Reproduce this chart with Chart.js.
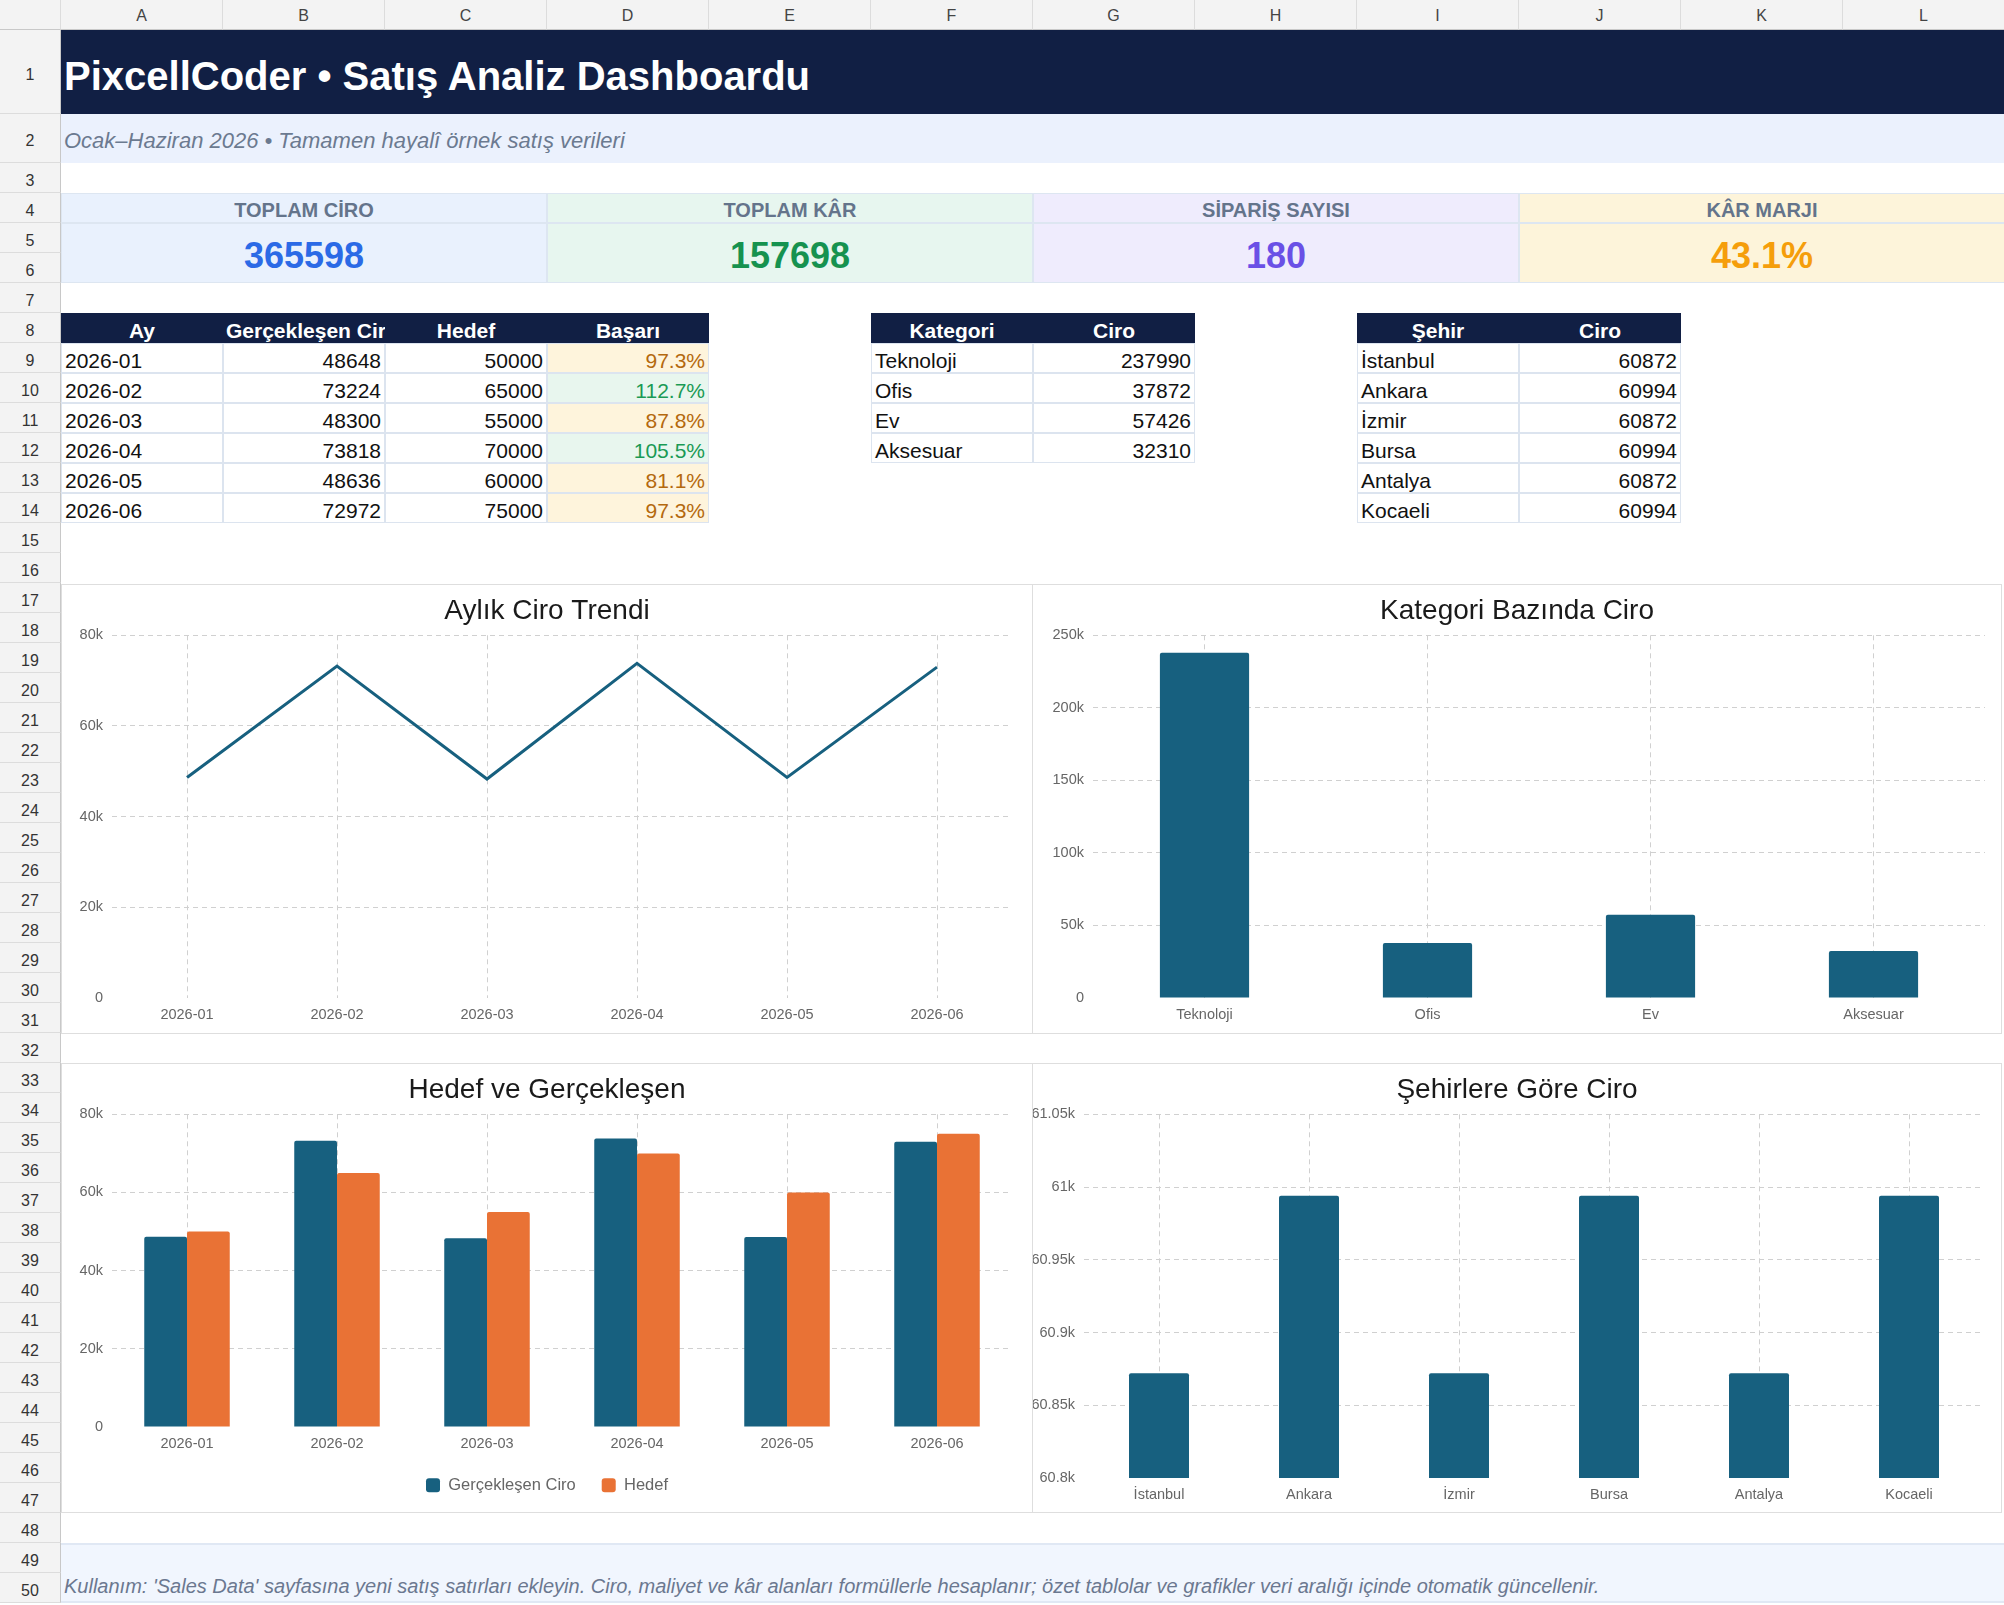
<!DOCTYPE html>
<html lang="tr">
<head>
<meta charset="utf-8">
<title>PixcellCoder • Satış Analiz Dashboardu</title>
<script src="https://cdn.jsdelivr.net/npm/chart.js@4.4.1/dist/chart.umd.min.js"></script>
<style>
  html, body { margin: 0; padding: 0; background: #fff; }
  body { width: 2004px; height: 1605px; position: relative; overflow: hidden;
         font-family: "Liberation Sans", Arial, Helvetica, sans-serif; color: #111; }
  .abs { position: absolute; box-sizing: border-box; white-space: nowrap; overflow: hidden; }
  .colhead { background: #f3f3f3; border-right: 1px solid #dcdcdc; border-bottom: 1px solid #c8c8c8;
             font-size: 16px; color: #444; text-align: center; line-height: 29px; padding-top: 1px; }
  .rowhead { background: #f3f3f3; border-right: 1px solid #c8c8c8; border-bottom: 1px solid #dcdcdc;
             font-size: 16px; color: #333; text-align: center; padding-top: 2.5px; }
  .title { background: #111f44; color: #fff; font-weight: bold; font-size: 40px;
           padding: 8px 3px 0; line-height: 76px; }
  .subtitle { background: #ebf1fd; color: #6b7a90; font-style: italic; font-size: 22px;
              padding: 4px 3px 0; line-height: 45px; }
  .kpi-label { border: 1px solid #dde6f1; color: #64748b; font-weight: bold; font-size: 20px;
               text-align: center; line-height: 26px; padding-top: 3px; }
  .kpi-value { border: 1px solid #dde6f1; font-weight: bold; font-size: 36px;
               text-align: center; line-height: 56px; padding-top: 4px; }
  .th { background: #111f44; color: #fff; font-weight: bold; font-size: 21px; text-align: center;
        line-height: 28px; padding: 3.5px 3px 0; }
  .td { font-size: 21px; line-height: 27px; border: 1px solid #dce4ef; padding: 3px 3px 0; color: #111; }
  .num { text-align: right; }
  .ok { background: #e8f6ee; color: #1a9a55; }
  .warn { background: #fef4dc; color: #b4690e; }
  .footer { background: #f1f6fe; border-top: 2px solid #e0e8f4; border-bottom: 2px solid #e0e8f4;
            color: #6b7890; font-style: italic; font-size: 20px; padding: 0 3px 3px;
            display: flex; align-items: flex-end; }
  .frame { border: 1px solid #dedede; background: #fff; }
  .frame canvas { display: block; }
</style>
</head>
<body>
<div id="sheet"></div>
<script>
// ---- data ----
const months = ["2026-01", "2026-02", "2026-03", "2026-04", "2026-05", "2026-06"];
const actualRevenue = [48648, 73224, 48300, 73818, 48636, 72972];
const targetRevenue = [50000, 65000, 55000, 70000, 60000, 75000];
const achievement = ["97.3%", "112.7%", "87.8%", "105.5%", "81.1%", "97.3%"];

const categories = ["Teknoloji", "Ofis", "Ev", "Aksesuar"];
const categoryRevenue = [237990, 37872, 57426, 32310];

const cities = ["İstanbul", "Ankara", "İzmir", "Bursa", "Antalya", "Kocaeli"];
const cityRevenue = [60872, 60994, 60872, 60994, 60872, 60994];

const kpiLabels = ["TOPLAM CİRO", "TOPLAM KÂR", "SİPARİŞ SAYISI", "KÂR MARJI"];
const kpiValues = ["365598", "157698", "180", "43.1%"];

const monthAxis = { min: 0, max: 80000, step: 20000 };
const categoryAxis = { min: 0, max: 250000, step: 50000 };
const cityAxis = { min: 60800, max: 61050, step: 50 };

const titleText = "PixcellCoder • Satış Analiz Dashboardu";
const subtitleText = "Ocak–Haziran 2026 • Tamamen hayalî örnek satış verileri";
const footerText = "Kullanım: 'Sales Data' sayfasına yeni satış satırları ekleyin. Ciro, maliyet ve kâr alanları formüllerle hesaplanır; özet tablolar ve grafikler veri aralığı içinde otomatik güncellenir.";

// ---- sheet layout ----
const sheet = document.getElementById("sheet");
const COL_W = 162, HEAD_W = 61;
const colLetters = "ABCDEFGHIJKL".split("");
const colX = c => HEAD_W + COL_W * c;
const rowY = r => r === 1 ? 30 : r === 2 ? 114 : 163 + (r - 3) * 30;
const rowH = r => r === 1 ? 84 : r === 2 ? 49 : 30;

function place(cls, x, y, w, h, text, extra) {
    const d = document.createElement("div");
    d.className = "abs " + cls;
    d.style.left = x + "px";
    d.style.top = y + "px";
    d.style.width = w + "px";
    d.style.height = h + "px";
    if (text !== undefined) d.textContent = text;
    if (extra) Object.assign(d.style, extra);
    sheet.appendChild(d);
    return d;
}

place("colhead", 0, 0, HEAD_W, 30, "");
colLetters.forEach((l, c) => place("colhead", colX(c), 0, COL_W, 30, l));
for (let r = 1; r <= 50; r++) {
    place("rowhead", 0, rowY(r), HEAD_W, rowH(r), String(r), { lineHeight: (rowH(r) - 1) + "px" });
}

place("title", colX(0), 30, 2004 - HEAD_W, 84, titleText);
place("subtitle", colX(0), 114, 2004 - HEAD_W, 49, subtitleText);

const kpiBg = ["#e9f1fd", "#e7f6ef", "#efecfd", "#fdf4da"];
const kpiColor = ["#2b6ae6", "#16924f", "#6a50e6", "#f59e0b"];
kpiLabels.forEach((label, i) => {
    place("kpi-label", colX(i * 3), rowY(4), COL_W * 3, 30, label, { background: kpiBg[i] });
    place("kpi-value", colX(i * 3), rowY(5), COL_W * 3, 60, kpiValues[i], { background: kpiBg[i], color: kpiColor[i] });
});

function table(c0, headers, columns, styler) {
    headers.forEach((h, j) => {
        const el = place("th", colX(c0 + j), rowY(8), COL_W, 30, h);
        if (el.scrollWidth > el.clientWidth) el.style.textAlign = "left";
    });
    columns[0].forEach((_, i) => {
        columns.forEach((col, j) => {
            const v = col[i];
            let cls = "td" + (typeof v === "number" ? " num" : "");
            if (styler) cls += styler(j, v);
            place(cls, colX(c0 + j), rowY(9 + i), COL_W, 30, String(v));
        });
    });
}

table(0, ["Ay", "Gerçekleşen Ciro", "Hedef", "Başarı"],
    [months, actualRevenue, targetRevenue, achievement],
    (j, v) => j === 3 ? (" num " + (parseFloat(v) >= 100 ? "ok" : "warn")) : "");
table(5, ["Kategori", "Ciro"], [categories, categoryRevenue]);
table(8, ["Şehir", "Ciro"], [cities, cityRevenue]);

place("footer", colX(0), rowY(49), 2004 - HEAD_W, 60, footerText);

// ---- charts ----
function frame(id, x, y, w, h) {
    const f = place("frame", x, y, w, h);
    const cv = document.createElement("canvas");
    cv.id = id;
    cv.width = w - 2;
    cv.height = h - 2;
    f.appendChild(cv);
    return cv.getContext("2d");
}

Chart.defaults.font.family = '"Liberation Sans", Arial, Helvetica, sans-serif';
Chart.defaults.color = "#666";

const BLUE = "#17607f";
const ORANGE = "#e97235";
const GRID = "#d0d0d0";

const kFormat = v => v === 0 ? "0" : (v / 1000) + "k";

// y labels may run into the left padding; clip them at the canvas edge only
const labelClip = {
    id: "labelClip",
    afterLayout(chart) { chart.scales.y.left = 0; }
};

function options(title, axis, yWidth, xHeight, pad, legend) {
    return {
        responsive: false,
        animation: false,
        layout: { padding: pad },
        plugins: {
            title: { display: true, text: title, color: "#1a1a1a", font: { size: 28, weight: "normal" }, padding: { top: 9.5, bottom: 7.2 } },
            legend: legend || { display: false },
            tooltip: { enabled: false }
        },
        scales: {
            x: {
                offset: true,
                grid: { offset: false, drawTicks: false, color: GRID },
                border: { display: false, dash: [5, 4] },
                ticks: { padding: 8, font: { size: 14.5 }, color: "#666" },
                afterFit: s => { s.height = xHeight; }
            },
            y: {
                min: axis.min, max: axis.max,
                grid: { drawTicks: false, color: c => (c.tick && c.tick.value === axis.min) ? "rgba(0,0,0,0)" : GRID },
                border: { display: false, dash: [5, 4] },
                ticks: { stepSize: axis.step, padding: 9, font: { size: 14.5 }, color: "#666", callback: kFormat },
                afterFit: s => { s.width = yWidth; }
            }
        }
    };
}

new Chart(frame("trendChart", 61, 584, 972, 450), {
    type: "line",
    data: {
        labels: months,
        datasets: [{ label: "Ciro", data: actualRevenue, borderColor: BLUE, backgroundColor: BLUE, borderWidth: 3, pointRadius: 0, tension: 0, fill: false }]
    },
    options: options("Aylık Ciro Trendi", monthAxis, 30, 27, { left: 20, right: 20, top: 0, bottom: 8 }),
    plugins: [labelClip]
});

new Chart(frame("categoryChart", 1032, 584, 970, 450), {
    type: "bar",
    data: {
        labels: categories,
        datasets: [{ label: "Ciro", data: categoryRevenue, backgroundColor: BLUE, borderRadius: 2, barPercentage: 0.5, categoryPercentage: 0.8 }]
    },
    options: options("Kategori Bazında Ciro", categoryAxis, 44, 27, { left: 16, right: 16, top: 0, bottom: 8 }),
    plugins: [labelClip]
});

new Chart(frame("targetChart", 61, 1063, 972, 450), {
    type: "bar",
    data: {
        labels: months,
        datasets: [
            { label: "Gerçekleşen Ciro", data: actualRevenue, backgroundColor: BLUE, borderRadius: 2, barPercentage: 1, categoryPercentage: 0.57 },
            { label: "Hedef", data: targetRevenue, backgroundColor: ORANGE, borderRadius: 2, barPercentage: 1, categoryPercentage: 0.57 }
        ]
    },
    options: options("Hedef ve Gerçekleşen", monthAxis, 30, 24, { left: 20, right: 20, top: 0, bottom: 8.5 }, {
        display: true,
        position: "bottom",
        labels: { boxWidth: 14, boxHeight: 14, useBorderRadius: true, borderRadius: 3, padding: 26, color: "#666", font: { size: 16.5 } }
    }),
    plugins: [labelClip]
});

new Chart(frame("cityChart", 1032, 1063, 970, 450), {
    type: "bar",
    data: {
        labels: cities,
        datasets: [{ label: "Ciro", data: cityRevenue, backgroundColor: BLUE, borderRadius: 2, barPercentage: 0.5, categoryPercentage: 0.8 }]
    },
    options: options("Şehirlere Göre Ciro", cityAxis, 34, 27, { left: 17, right: 17, top: 0, bottom: 7 }),
    plugins: [labelClip]
});
</script>
</body>
</html>
